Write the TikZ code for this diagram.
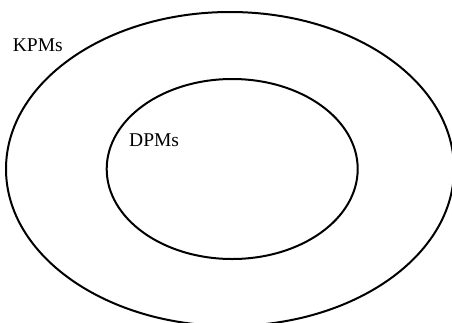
\documentclass[tikz,border=0pt]{standalone}
\usepackage{fontspec}
\setmainfont{Liberation Serif}
\usetikzlibrary{shapes.geometric}
\begin{document}
\begin{tikzpicture}[x=1pt,y=-1pt,
  setring/.style={ellipse, draw=black, line width=2pt, inner sep=0pt, outer sep=0pt},
  setlabel/.style={anchor=base west, inner sep=0pt, font=\fontsize{19.5}{22}\selectfont}]
\useasboundingbox (0,0) rectangle (452,322);
\clip (0,0) rectangle (452,322);
\node[setring, minimum width=448pt, minimum height=314pt] (kpm) at (230,169) {};
\node[setring, minimum width=251pt, minimum height=180pt] (dpm) at (232.2,169) {};
\node[setlabel] (kpmlabel) at (12.7,51) {KPMs};
\node[setlabel] (dpmlabel) at (129,146.7) {DPMs};
\end{tikzpicture}
\end{document}
